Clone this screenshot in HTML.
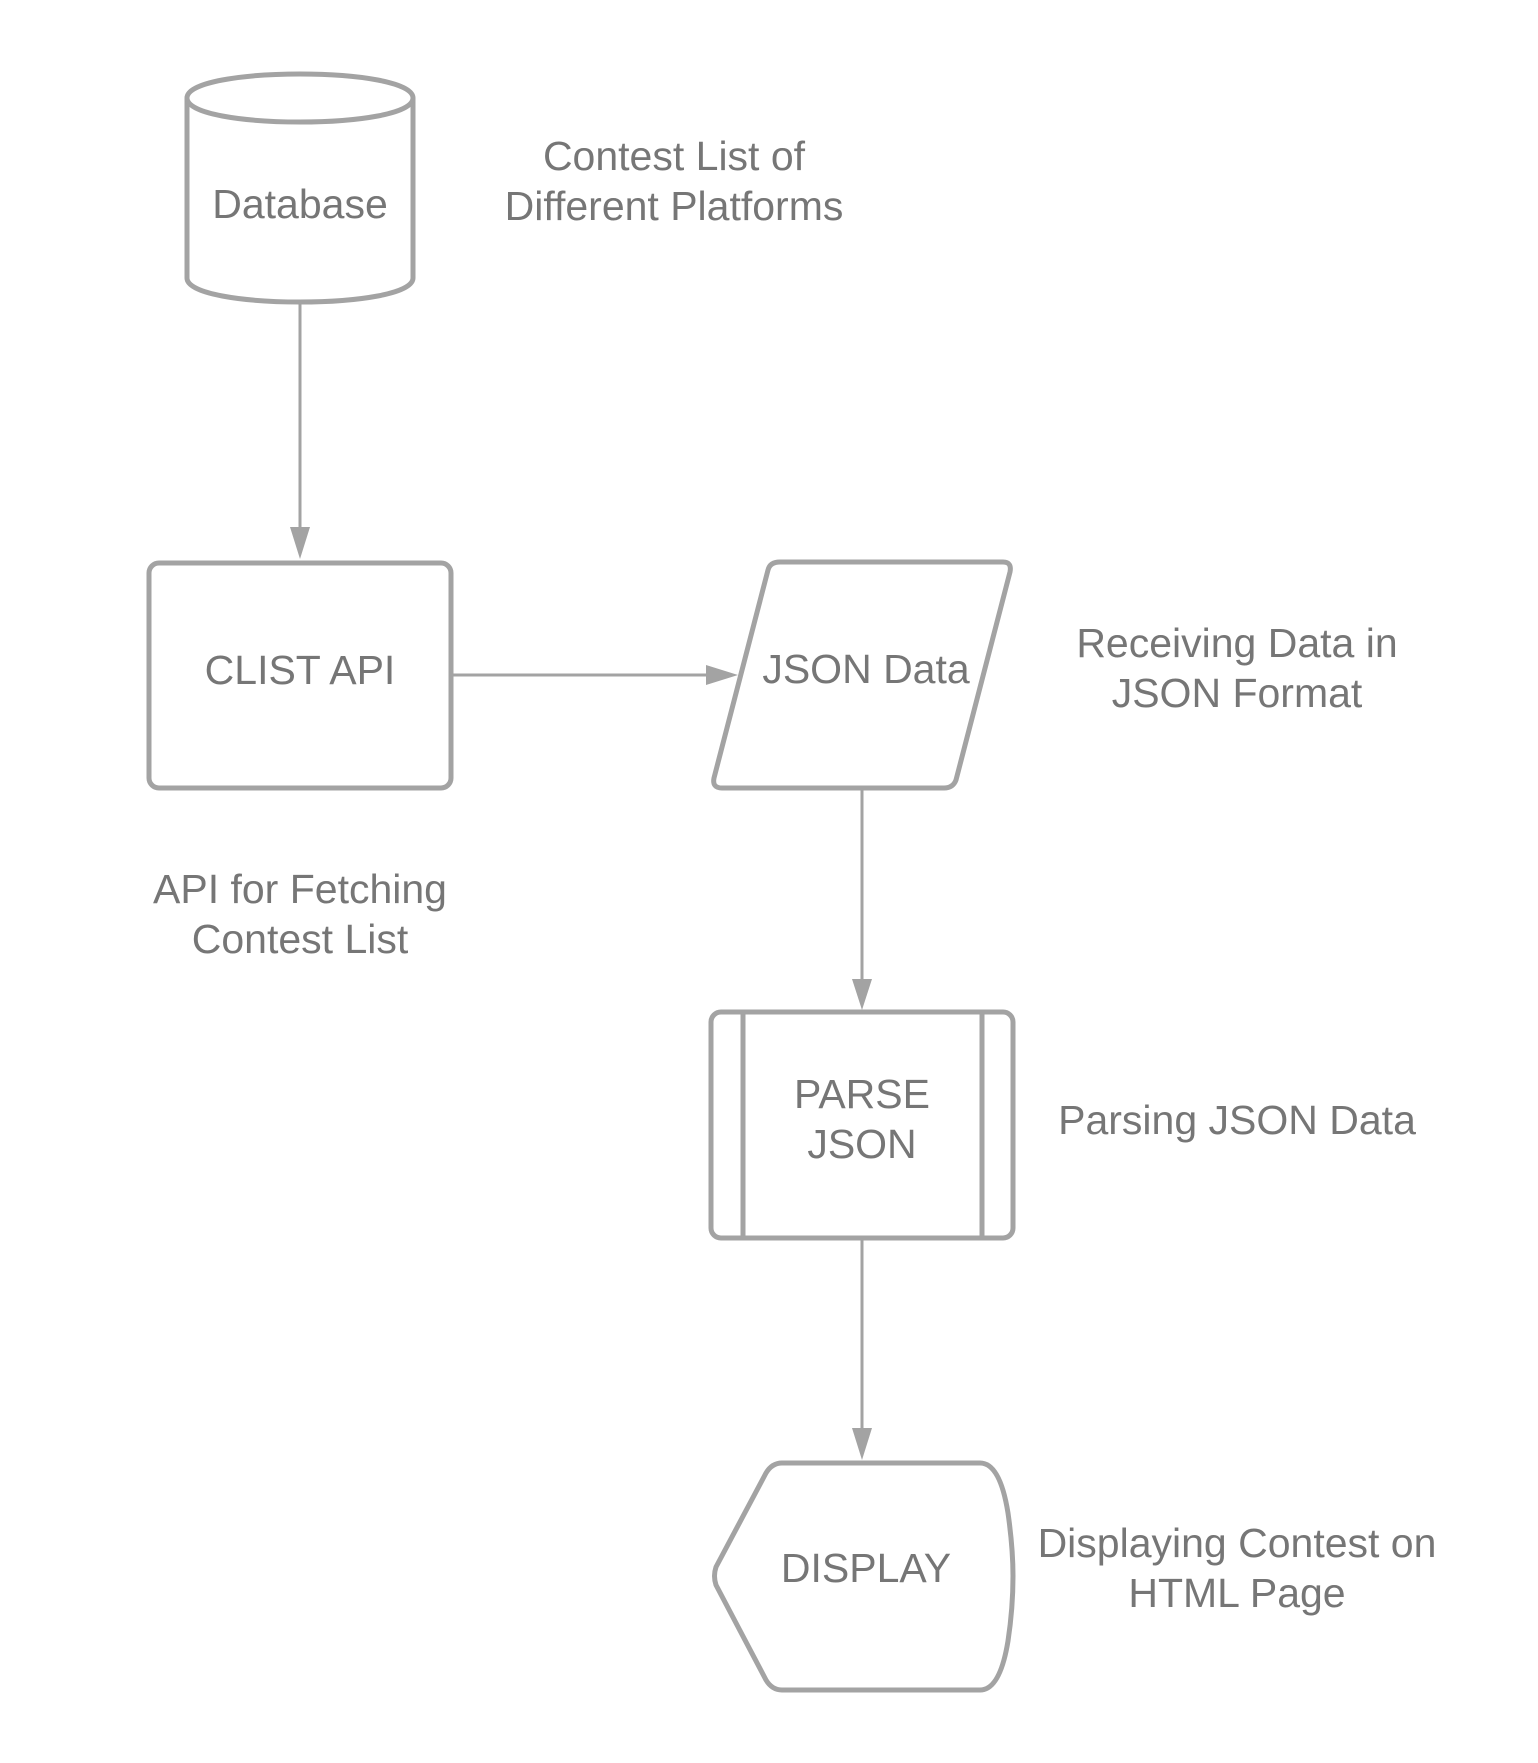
<!DOCTYPE html>
<html><head><meta charset="utf-8"><style>
html,body{margin:0;padding:0;background:#fff;}
svg{display:block;}
text{font-family:"Liberation Sans",Arial,sans-serif;font-size:41px;fill:#767676;text-anchor:middle;}
</style></head><body>
<svg width="1538" height="1763" viewBox="0 0 1538 1763" xmlns="http://www.w3.org/2000/svg">
<g fill="none" stroke="#a3a3a3" stroke-width="5" stroke-linejoin="round">
  <path d="M187,98 C187,66 413,66 413,98 L413,278 C413,310 187,310 187,278 Z" fill="#fff"/>
  <path d="M187,98 C187,130 413,130 413,98"/>
  <rect x="149" y="563" width="302" height="225" rx="10" fill="#fff"/>
  <path d="M780,562 L1003,562 Q1012,562 1010,572 L956,780 Q953,788 944,788 L722,788 Q712,788 714,778 L768,570 Q770,562 780,562 Z" fill="#fff"/>
  <rect x="711" y="1012" width="302" height="226" rx="10" fill="#fff"/>
  <line x1="743" y1="1012" x2="743" y2="1238"/>
  <line x1="982" y1="1012" x2="982" y2="1238"/>
  <path d="M782,1463 L980,1463 Q1000,1463 1008,1513 Q1013,1548 1013,1576 Q1013,1608 1008,1641 Q1000,1690 980,1690 L782,1690 Q772,1690 766,1680 L716,1585 Q713,1576 716,1567 L766,1473 Q772,1463 782,1463 Z" fill="#fff"/>
</g>
<g stroke="#a3a3a3" stroke-width="3" fill="#a3a3a3">
  <line x1="300" y1="303" x2="300" y2="535"/>
  <polygon points="290,527 310,527 300,559" stroke="none"/>
  <line x1="453" y1="675" x2="712" y2="675"/>
  <polygon points="706,665 706,685 738,675" stroke="none"/>
  <line x1="862" y1="790" x2="862" y2="985"/>
  <polygon points="852,979 872,979 862,1010" stroke="none"/>
  <line x1="862" y1="1240" x2="862" y2="1433"/>
  <polygon points="852,1428 872,1428 862,1460" stroke="none"/>
</g>
<text x="300" y="218">Database</text>
<text x="674" y="170">Contest List of</text>
<text x="674" y="220">Different Platforms</text>
<text x="300" y="684">CLIST API</text>
<text x="300" y="903">API for Fetching</text>
<text x="300" y="953">Contest List</text>
<text x="866" y="683">JSON Data</text>
<text x="1237" y="657">Receiving Data in</text>
<text x="1237" y="707">JSON Format</text>
<text x="862" y="1108">PARSE</text>
<text x="862" y="1158">JSON</text>
<text x="1237" y="1134">Parsing JSON Data</text>
<text x="866" y="1582">DISPLAY</text>
<text x="1237" y="1557">Displaying Contest on</text>
<text x="1237" y="1607">HTML Page</text>
</svg>
</body></html>
